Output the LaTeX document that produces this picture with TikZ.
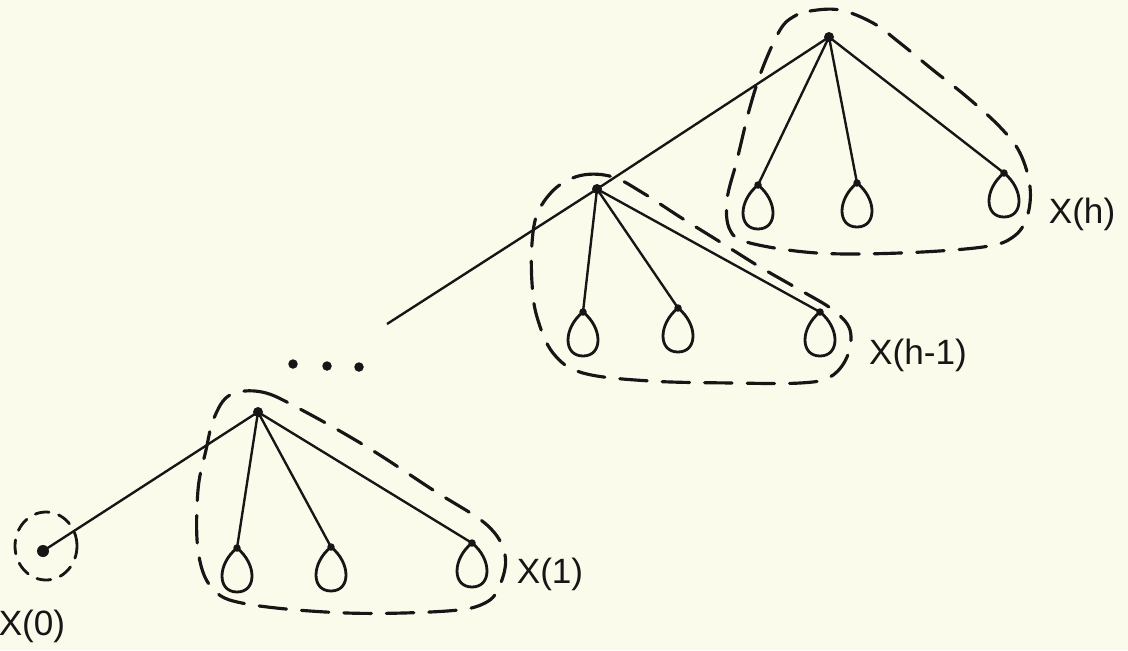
\documentclass[tikz,border=0pt]{standalone}
\usepackage{fontspec}
\setmainfont{Liberation Sans}
\definecolor{paper}{RGB}{251,251,236}
\definecolor{ink}{RGB}{22,22,22}
\tikzset{
  edge/.style={draw=ink, line width=1.35pt},
  hull/.style={draw=ink, line width=1.8pt, dash pattern=on 0.55cm off 0.3cm, line cap=round},
  smallhull/.style={draw=ink, line width=1.6pt, dash pattern=on 0.28cm off 0.2cm, line cap=round},
  lbl/.style={text=ink, font=\fontsize{20}{23}\selectfont, inner sep=0pt},
  loopline/.style={draw=ink, line width=1.6pt},
  pics/droop/.style={code={
    \draw[loopline] (0,0) .. controls (-20,16) and (-20,44) .. (0,44)
                          .. controls (20,44) and (20,16) .. (0,0);
    \fill[ink] (0,0) circle[radius=0.075cm];
  }}
}
\begin{document}
\begin{tikzpicture}[x=0.02cm, y=-0.02cm]
\fill[paper] (0,0) rectangle (1128,650);
\useasboundingbox (0,0) rectangle (1128,650);

% ---- coordinates ----
\coordinate (x0) at (43,551);
\coordinate (r1) at (258,412);
\coordinate (a1) at (237,548);
\coordinate (b1) at (331,547);
\coordinate (c1) at (472,543);
\coordinate (s)  at (387,324);
\coordinate (r2) at (597,189);
\coordinate (a2) at (583,312);
\coordinate (b2) at (678,308);
\coordinate (c2) at (820,312);
\coordinate (r3) at (829,37);
\coordinate (a3) at (758,185);
\coordinate (b3) at (857,183);
\coordinate (c3) at (1004,173);

% ---- edges ----
\draw[edge] (x0) -- (r1);
\draw[edge] (r1) -- (a1);
\draw[edge] (r1) -- (b1);
\draw[edge] (r1) -- (c1);
\draw[edge] (s) -- (r2) -- (r3);
\draw[edge] (r2) -- (a2);
\draw[edge] (r2) -- (b2);
\draw[edge] (r2) -- (c2);
\draw[edge] (r3) -- (a3);
\draw[edge] (r3) -- (b3);
\draw[edge] (r3) -- (c3);

% ---- loops at leaves ----
\foreach \p in {a1,b1,c1,a2,b2,c2,a3,b3,c3}{
  \pic at (\p) {droop};
}

% ---- dots ----
\fill[ink] (x0) circle[radius=0.12cm];
\fill[ink] (r1) circle[radius=0.1cm];
\fill[ink] (r2) circle[radius=0.1cm];
\fill[ink] (r3) circle[radius=0.1cm];
\node[circle, fill=ink, inner sep=0pt, minimum size=0.19cm] (d1) at (293,364) {};
\node[circle, fill=ink, inner sep=0pt, minimum size=0.19cm] (d2) at (327,366) {};
\node[circle, fill=ink, inner sep=0pt, minimum size=0.19cm] (d3) at (359,367) {};

% ---- dashed hulls ----
\draw[smallhull] (46,546) ellipse[x radius=0.62cm, y radius=0.68cm];

\draw[hull] plot[smooth cycle, tension=0.6] coordinates {
  (230,395) (262,392) (300,409) (367,447) (433,490) (487,525) (505,555)
  (500,585) (485,603) (447,611) (347,613) (247,604) (212,588) (198,550)
  (198,490) (206,450) (214,418)};

\draw[hull] plot[smooth cycle, tension=0.6] coordinates {
  (557,187) (583,175) (613,177) (643,193) (680,217) (717,240) (760,267)
  (800,290) (833,310) (850,330) (847,357) (830,377) (800,383) (733,383)
  (650,381) (583,373) (553,353) (537,317) (532,283) (532,243) (538,212)};

\draw[hull] plot[smooth cycle, tension=0.6] coordinates {
  (793,17) (810,11) (840,10) (873,23) (900,43) (933,70) (967,97)
  (1000,127) (1020,153) (1030,187) (1027,217) (1013,237) (983,247)
  (900,253) (817,253) (750,243) (730,230) (727,200) (737,160)
  (750,107) (763,67) (780,30)};

% ---- labels ----
\node[lbl] (l0) at (32,626) {X(0)};
\node[lbl] (l1) at (550,574) {X(1)};
\node[lbl] (l2) at (918,355) {X(h-1)};
\node[lbl] (l3) at (1082,214) {X(h)};
\end{tikzpicture}
\end{document}
